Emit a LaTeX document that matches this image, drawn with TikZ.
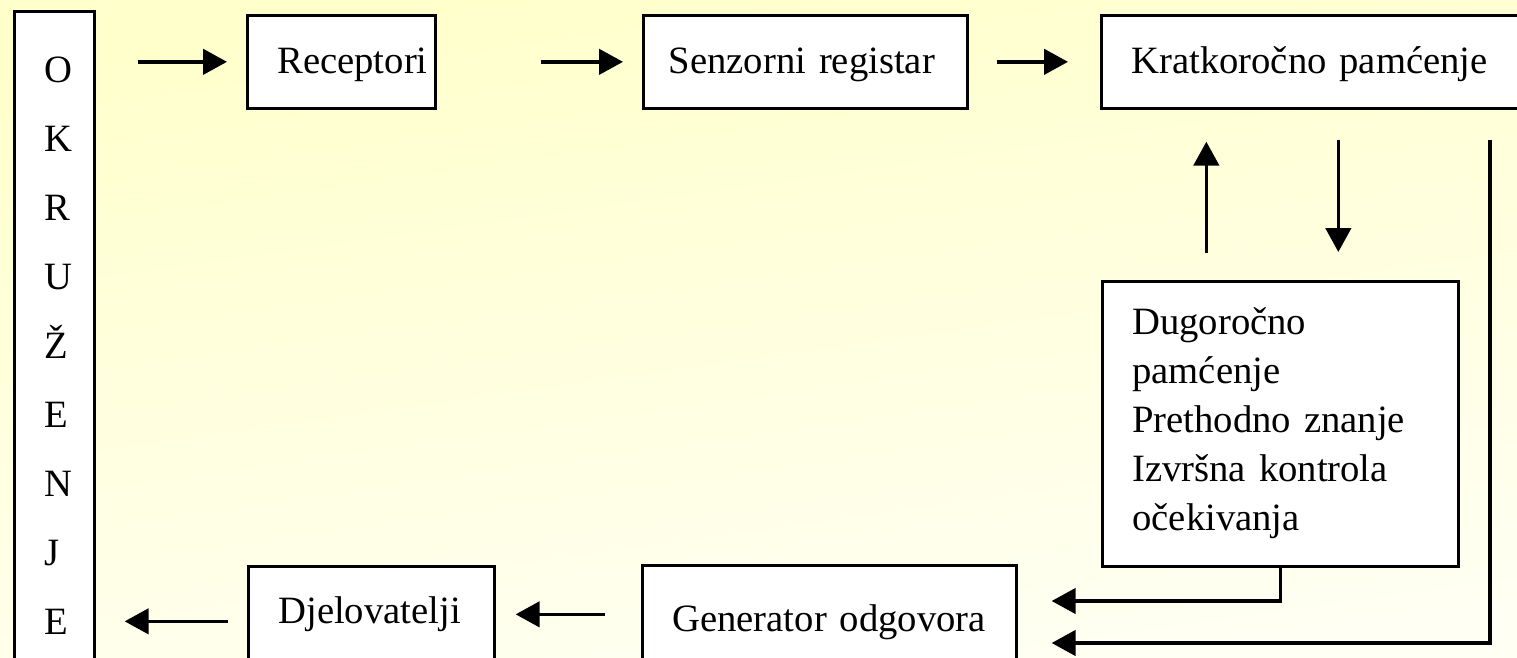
\documentclass[tikz,border=0pt]{standalone}
\usepackage{fontspec}
\setmainfont{Liberation Serif}
\usetikzlibrary{arrows.meta}
\hyphenpenalty=10000

\definecolor{bgtop}{RGB}{255,255,203}
\definecolor{bgbot}{RGB}{255,255,243}

\tikzset{
  box/.style={draw, line width=2pt, fill=white, inner xsep=22.5pt, inner ysep=0pt,
    align=left, anchor=north west, font=\fontsize{29}{36.75}\selectfont},
  toprow/.style={text height=43.5pt, text depth=26.25pt},
  arr/.style={line width=2.7pt, -{Triangle[length=18pt,width=19pt]}},
}

\begin{document}
\begin{tikzpicture}[x=0.75pt, y=-0.75pt]
  \clip (0,0) rectangle (1517,657);
  \fill[top color=bgtop, bottom color=bgbot, shading angle=8] (0,0) rectangle (1517,657);

  % okruzenje, one letter per line
  \node[box, text width=15pt, text height=53.25pt, text depth=480pt,
    font=\fontsize{29}{51.75}\selectfont] (okr) at (13,10)
    {O\\K\\R\\U\\Ž\\E\\N\\J\\E};

  % upper row
  \node[box, toprow, text width=96pt] (rec) at (246,14) {Receptori};
  \node[box, toprow, text width=205pt, inner xsep=19pt] (sen) at (642,14) {Senzorni registar};
  \node[box, toprow, text width=315pt] (kra) at (1100,14) {Kratkoročno pamćenje};

  % long term memory
  \node[box, text width=222pt, text height=39.75pt, text depth=174pt] (dug) at (1101,280)
    {Dugoročno\\pamćenje\\Prethodno znanje\\Izvršna kontrola\\očekivanja};

  % lower row
  \node[box, text width=235.5pt, text height=49.5pt, text depth=24pt] (gen) at (641,564) {Generator odgovora};
  \node[box, text width=139.5pt, text height=42.75pt, text depth=29.25pt] (djel) at (247,565) {Djelovatelji};

  \draw[arr, shorten <=31.5pt, shorten >=14.25pt] (okr.east |- rec.west) -- (rec.west);
  \draw[arr, shorten <=78pt, shorten >=14.25pt] (rec) -- (sen);
  \draw[arr, shorten <=21pt, shorten >=24pt] (sen) -- (kra);

  \draw[arr, shorten <=20.25pt, shorten >=24pt] ([xshift=-55.5pt]dug.north) -- ([xshift=-55.5pt]dug.north |- kra.south);
  \draw[arr, shorten <=22.5pt, shorten >=21pt] ([xshift=43.5pt]dug.north |- kra.south) -- ([xshift=43.5pt]dug.north);

  \coordinate (ltm in) at ([xshift=25.5pt, yshift=-27.75pt]gen.north east);
  \coordinate (stm in) at ([xshift=25.5pt, yshift=-59.25pt]gen.north east);
  \draw[arr] (dug.south) |- (ltm in);
  \draw[arr] ([xshift=292.5pt, yshift=-22.5pt]kra.south west) |- (stm in);

  \draw[arr, shorten <=27pt, shorten >=15pt] (gen) -- (djel);
  \draw[arr, shorten <=14.25pt, shorten >=21.75pt] ([yshift=-5.25pt]djel.west) -- ([yshift=-5.25pt]djel.west -| okr.east);
\end{tikzpicture}
\end{document}
